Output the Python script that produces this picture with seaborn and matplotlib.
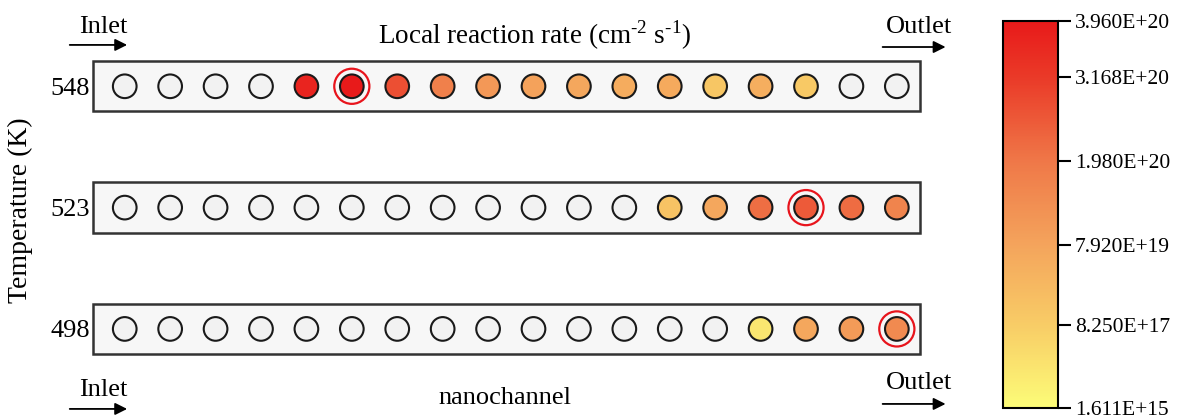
import numpy as np
import pandas as pd
import matplotlib
matplotlib.use("Agg")
import matplotlib.pyplot as plt
import seaborn as sns
from matplotlib.colors import LinearSegmentedColormap, FuncNorm
from matplotlib.patches import Rectangle
import matplotlib.cm as cm

# Data: local reaction rate (cm^-2 s^-1) per site, NaN = no reaction
temperatures = [548, 523, 498]
rate_548 = [np.nan, np.nan, np.nan, np.nan, 3.69e20, 3.96e20, 2.76e20, 1.78e20, 1.11e20,
            8.4e19, 7.5e19, 6.4e19, 6.8e19, 1.4e19, 6.0e19, 6.5e18, np.nan, np.nan]
rate_523 = [np.nan] * 12 + [1.8e19, 7.5e19, 2.16e20, 2.54e20, 2.21e20, 1.67e20]
rate_498 = [np.nan] * 14 + [3.9e17, 7.5e19, 1.04e20, 1.50e20]

# Colorbar ticks (non-uniform scale)
cbar_ticks = [1.611e15, 8.250e17, 7.920e19, 1.980e20, 3.168e20, 3.960e20]
cbar_pos = [0.0, 0.214, 0.421, 0.637, 0.855, 1.0]
cbar_colors = ["#FCFC78", "#F8CC66", "#F4A45C", "#EF7848", "#EA3A28", "#E81A1A"]

sns.set_theme(style="white")
plt.rcParams["font.family"] = ["Liberation Serif", "DejaVu Serif"]
plt.rcParams["mathtext.fontset"] = "custom"
plt.rcParams["mathtext.rm"] = "Liberation Serif"
for k in ["text.color", "axes.labelcolor", "xtick.color", "ytick.color"]:
    plt.rcParams[k] = "black"

cmap = LinearSegmentedColormap.from_list("rate", list(zip(cbar_pos, cbar_colors)))
norm = FuncNorm((lambda v: np.interp(v, cbar_ticks, cbar_pos),
                 lambda p: np.interp(p, cbar_pos, cbar_ticks)),
                vmin=cbar_ticks[0], vmax=cbar_ticks[-1])

rows = {548: rate_548, 523: rate_523, 498: rate_498}
recs = []
for r, (T, vals) in enumerate(reversed(list(rows.items()))):
    for i, v in enumerate(vals):
        col = "#F2F2F2" if np.isnan(v) else matplotlib.colors.to_hex(cmap(norm(v)))
        recs.append({"site": i, "row": r, "T": T, "rate": v, "color": col})
df = pd.DataFrame(recs)
n = len(rate_548)

fig = plt.figure(figsize=(11.81, 4.16), dpi=100)
ax = fig.add_axes([0.0787, 0.1466, 0.7003, 0.7043])
x0, x1 = -0.70, n - 1 + 0.51
ax.set_xlim(x0, x1)
ax.set_ylim(-0.215, 2.2)

# channels
for r in range(3):
    ax.add_patch(Rectangle((x0, r - 0.207), x1 - x0, 0.414, facecolor="#F7F7F7",
                           edgecolor="#333333", lw=1.8, clip_on=False, zorder=1))

pal = {c: c for c in df["color"].unique()}
sns.scatterplot(data=df, x="site", y="row", hue="color", palette=pal, legend=False,
                s=290, edgecolor="#1a1a1a", linewidth=1.5, ax=ax, zorder=3, clip_on=False)

# highlight maximum in each row
mx = df.loc[df.groupby("row")["rate"].idxmax()]
ax.scatter(mx["site"], mx["row"], s=640, facecolors="none", edgecolors="#E8141C",
           linewidths=1.6, zorder=2)

ax.set_yticks(range(3))
ax.set_yticklabels([str(t) for t in reversed(temperatures)], fontsize=19)
ax.tick_params(axis="y", length=0, pad=2)
ax.set_xticks([])
ax.set_xlabel("")
ax.set_ylabel("")
for s in ax.spines.values():
    s.set_visible(False)

fig.text(0.017, 0.495, "Temperature (K)", rotation=90, ha="center", va="center", fontsize=20)
fig.text(0.453, 0.915, r"Local reaction rate (cm$^{\text{-2}}$ s$^{\text{-1}}$)",
         ha="center", va="center", fontsize=19.5)
fig.text(0.4276, 0.043, "nanochannel", ha="center", va="center", fontsize=19)

# inlet / outlet arrows
for label, xs, ty, ay in [("Inlet", (0.0567, 0.110), 0.935, 0.892),
                          ("Outlet", (0.745, 0.803), 0.935, 0.887),
                          ("Inlet", (0.0567, 0.110), 0.063, 0.017),
                          ("Outlet", (0.745, 0.803), 0.079, 0.029)]:
    fig.text(np.mean(xs) + 0.004, ty, label, ha="center", va="center", fontsize=19)
    fig.add_artist(matplotlib.patches.FancyArrowPatch(
        (xs[0], ay), (xs[1], ay), transform=fig.transFigure, arrowstyle="-|>",
        mutation_scale=18, lw=1.3, color="black"))

# colorbar
cax = fig.add_axes([0.8493, 0.0192, 0.0466, 0.9303])
sm = cm.ScalarMappable(norm=norm, cmap=cmap)
cb = fig.colorbar(sm, cax=cax)
cb.set_ticks(cbar_ticks)
cb.set_ticklabels(["%.3E" % t for t in cbar_ticks])
cb.ax.tick_params(length=9, width=1.5, color="black", labelsize=15.5, pad=3, direction="out")
cb.outline.set_linewidth(1.5)
cb.outline.set_edgecolor("black")

fig.savefig("out.png", dpi=100)
